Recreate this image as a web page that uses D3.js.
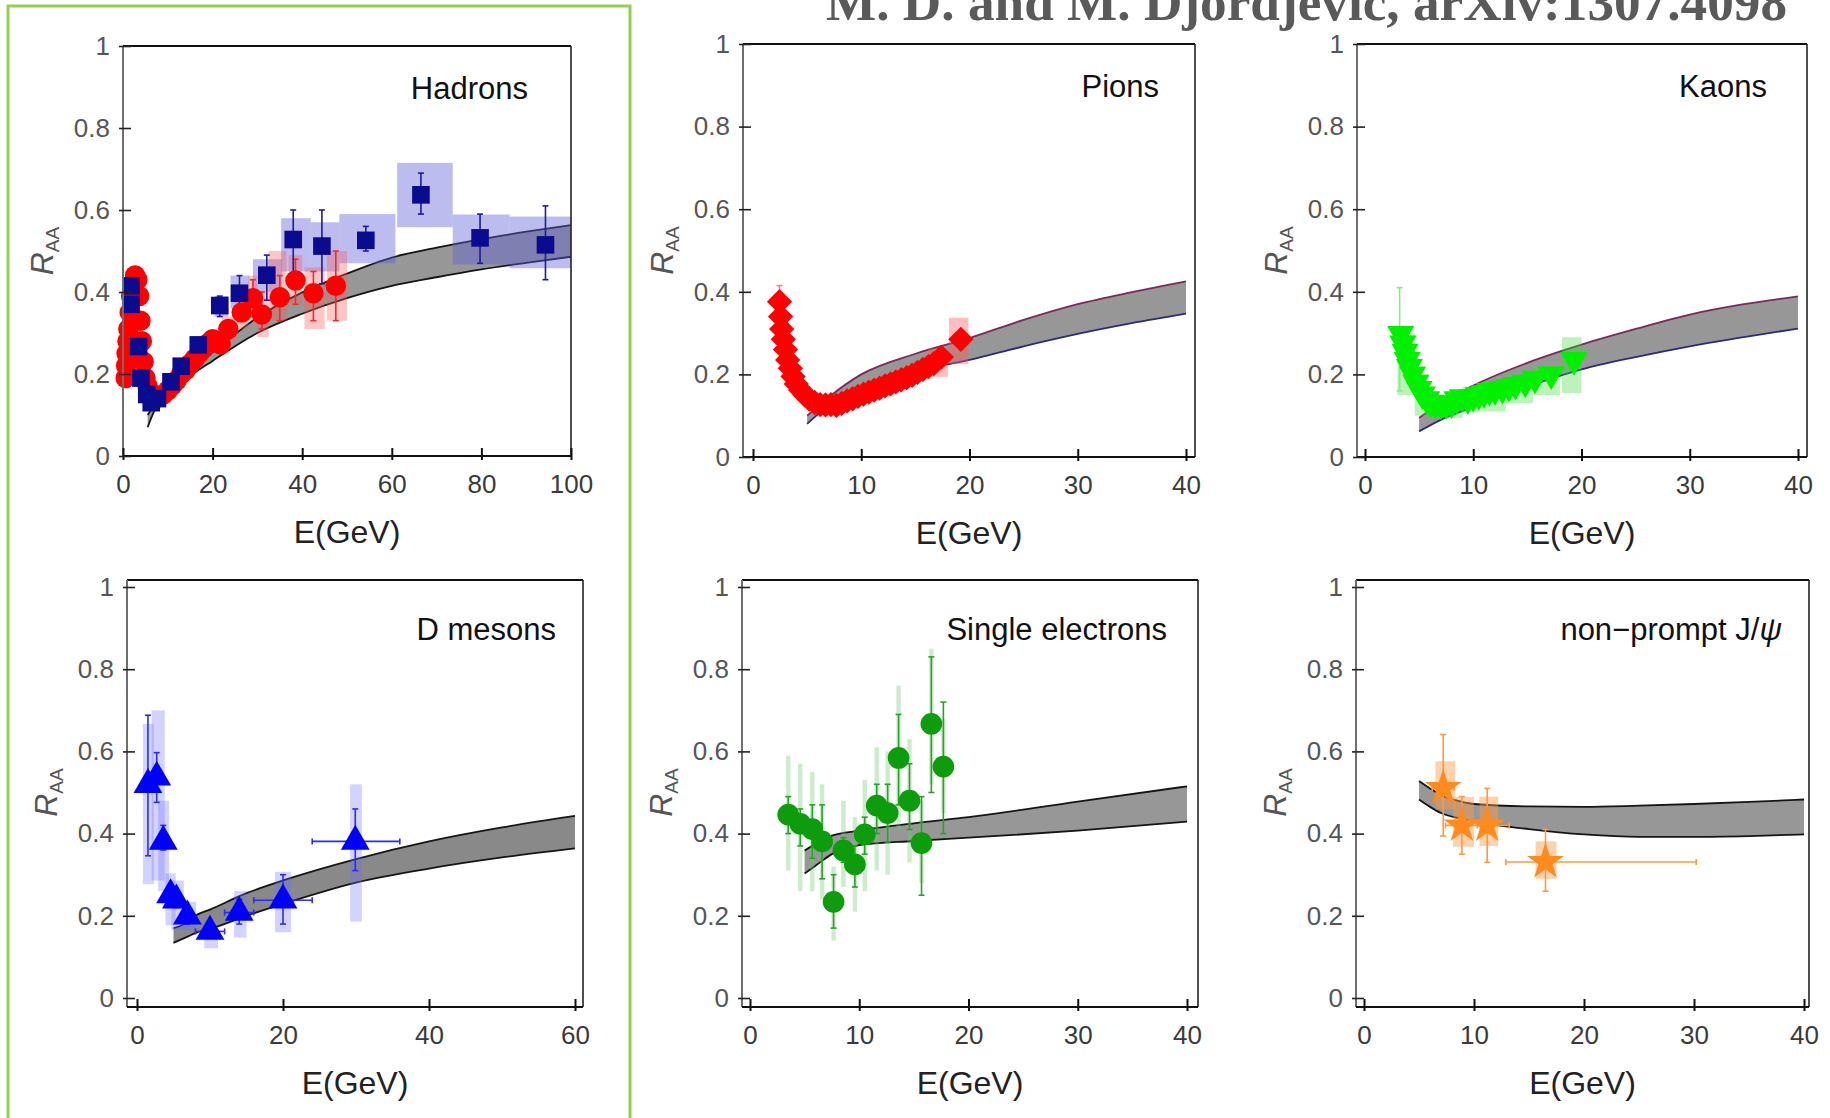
<!DOCTYPE html>
<html>
<head>
<meta charset="utf-8">
<script src="https://d3js.org/d3.v7.min.js"></script>
<style>
body { margin: 0; background: #fff; }
</style>
</head>
<body>
<svg id="chart" width="1830" height="1118"></svg>
<script>
// ---- data (E in GeV, R_AA) ----

// theory bands: [E, lower, upper]
var hadronBand = [[5.5,0.07,0.10],[7,0.11,0.123],[10,0.145,0.162],[15,0.195,0.21],[20,0.232,0.253],[30,0.30,0.338],[40,0.347,0.399],[50,0.385,0.445],[60,0.415,0.484],[70,0.436,0.508],[80,0.455,0.529],[90,0.471,0.547],[100,0.486,0.563]];
var pionBand = [[5,0.08,0.10],[7,0.125,0.145],[10,0.17,0.20],[15,0.208,0.25],[20,0.235,0.288],[25,0.268,0.332],[30,0.298,0.37],[35,0.324,0.399],[40,0.347,0.425]];
var kaonBand = [[5,0.062,0.095],[7,0.09,0.13],[10,0.121,0.173],[15,0.17,0.228],[20,0.212,0.272],[25,0.242,0.31],[30,0.268,0.345],[35,0.29,0.37],[40,0.311,0.389]];
var dBand = [[5,0.134,0.17],[7,0.15,0.185],[8,0.158,0.2],[10,0.168,0.215],[15,0.2,0.255],[20,0.229,0.286],[30,0.281,0.338],[40,0.315,0.381],[50,0.342,0.415],[60,0.364,0.443]];
var elecBand = [[5,0.303,0.359],[6,0.322,0.375],[7.5,0.35,0.395],[10,0.372,0.407],[15,0.382,0.425],[20,0.39,0.44],[30,0.407,0.478],[40,0.429,0.515]];
var jpsiBand = [[5,0.483,0.528],[6,0.465,0.51],[7,0.45,0.494],[8.5,0.438,0.48],[10,0.429,0.472],[15,0.411,0.466],[20,0.398,0.465],[25,0.392,0.468],[30,0.392,0.472],[35,0.394,0.477],[40,0.398,0.483]];

// hadrons, blue squares: [E, R]
var hadBlue = [[1.8,0.415],[1.8,0.37],[3.5,0.267],[4.0,0.19],[5.3,0.15],[6.3,0.13],[7.7,0.14],[10.7,0.181],[13,0.219],[16.8,0.271],[21.6,0.367],[26,0.397],[32.1,0.441],[38,0.528],[44.4,0.512],[54.2,0.526],[66.5,0.637],[79.7,0.532],[94.3,0.515]];
// [E, low, high]
var hadBlueErr = [[21.6,0.34,0.39],[26,0.36,0.44],[32.1,0.38,0.49],[38,0.44,0.60],[44.4,0.42,0.60],[54.2,0.50,0.56],[66.5,0.59,0.69],[79.7,0.47,0.59],[94.3,0.43,0.61]];
// [E from, E to, low, high]
var hadBlueSys = [[20.5,23.5,0.34,0.39],[24,28.2,0.36,0.44],[29,35.5,0.40,0.48],[35.3,41.9,0.45,0.58],[41.9,48.3,0.45,0.57],[48.3,60.8,0.47,0.59],[61.2,73.6,0.558,0.715],[73.6,86.3,0.467,0.589],[86.3,100,0.458,0.584]];

// hadrons, red circles
var hadRed = [[0.6,0.19],[0.7,0.22],[0.8,0.25],[1.0,0.28],[1.2,0.31],[1.5,0.35],[1.8,0.39],[2.2,0.42],[2.7,0.44],[3.2,0.43],[3.6,0.39],[3.9,0.33],[4.2,0.28],[4.6,0.23],[5.0,0.19],[5.5,0.17],[6.0,0.155],[6.6,0.145],[7.3,0.14],[8.0,0.145],[9,0.15],[10,0.16],[11,0.172],[12,0.185],[13,0.2],[14,0.21],[15,0.225],[16,0.237],[17,0.25],[18,0.262],[19,0.275],[20,0.285],[21.8,0.272],[23.5,0.31],[26.5,0.35],[29,0.385],[31,0.345],[35,0.387],[38.5,0.428],[42.5,0.397],[47.5,0.415]];
var hadRedErr = [[29,0.34,0.43],[31,0.31,0.40],[35,0.33,0.44],[38.5,0.37,0.48],[42.5,0.33,0.45],[47.5,0.33,0.50]];
var hadRedSys = [[22,25,0.28,0.34],[25,28,0.31,0.39],[28,30,0.33,0.44],[30,32.5,0.29,0.40],[32.5,36.5,0.33,0.50],[37,40,0.37,0.49],[40.5,45,0.31,0.46],[45.5,50,0.33,0.50]];

// pions, red diamonds
var pions = [[2.45,0.376],[2.55,0.34],[2.65,0.31],[2.8,0.285],[3.0,0.26],[3.2,0.235],[3.45,0.215],[3.7,0.195],[4.0,0.177],[4.4,0.162],[4.8,0.15],[5.2,0.14],[5.7,0.132],[6.2,0.127],[6.7,0.126],[7.2,0.127],[7.7,0.125],[8.2,0.13],[8.7,0.136],[9.2,0.141],[9.7,0.147],[10.2,0.152],[10.7,0.157],[11.2,0.162],[11.7,0.167],[12.2,0.172],[12.7,0.177],[13.2,0.182],[13.7,0.187],[14.2,0.192],[14.7,0.198],[15.2,0.205],[15.7,0.212],[16.2,0.219],[16.7,0.226],[17.4,0.242],[19.2,0.285]];
var pionErr = [[2.45,0.376,0.415]];
var pionSys = [[16.2,18,0.194,0.263],[18.1,19.9,0.225,0.337]];

// kaons, green down triangles
var kaons = [[3.3,0.298],[3.5,0.275],[3.7,0.255],[3.9,0.235],[4.1,0.218],[4.4,0.2],[4.7,0.18],[5.0,0.165],[5.3,0.152],[5.7,0.14],[6.1,0.132],[6.5,0.128],[7.0,0.127],[7.5,0.128],[8.0,0.13],[8.5,0.14],[9.0,0.145],[9.5,0.14],[10.0,0.145],[10.5,0.15],[11.0,0.155],[11.5,0.16],[12.0,0.162],[12.7,0.165],[13.3,0.17],[13.9,0.175],[14.8,0.18],[15.7,0.19],[17.2,0.2],[19.3,0.235]];
var kaonErr = [[3.2,0.16,0.41]];
var kaonSys = [[3.0,4.6,0.15,0.30],[4.6,5.8,0.10,0.20],[5.8,9,0.095,0.15],[9,13,0.11,0.17],[13,15.5,0.13,0.20],[15.5,18,0.15,0.22],[18.2,20,0.155,0.29]];

// D mesons, blue triangles
var dMesons = [[1.5,0.519],[2.7,0.537],[3.6,0.381],[4.6,0.251],[5.4,0.238],[6.9,0.199],[10,0.162],[14,0.208],[20,0.238],[29.9,0.381]];
var dErr = [[1.5,0.346,0.688],[2.7,0.476,0.597],[3.6,0.36,0.42],[4.6,0.23,0.27],[5.4,0.22,0.26],[6.9,0.18,0.22],[10,0.15,0.175],[14,0.18,0.24],[20,0.18,0.30],[29.9,0.31,0.46]];
// [R, E from, E to]
var dErrX = [[0.162,8,12],[0.208,12,16],[0.238,16,24],[0.381,24,36]];
var dSys = [[0.8,2.3,0.277,0.667],[2.0,3.8,0.286,0.70],[2.9,4.4,0.26,0.48],[3.9,5.3,0.177,0.303],[4.7,6.4,0.165,0.286],[6.1,8.1,0.165,0.234],[9.2,11.1,0.121,0.173],[13.3,15,0.147,0.26],[18.9,21.1,0.16,0.307],[29.2,30.8,0.186,0.52]];

// single electrons, green circles
var elec = [[3.5,0.446],[4.6,0.424],[5.7,0.411],[6.6,0.381],[7.65,0.234],[8.55,0.359],[9.6,0.325],[10.5,0.398],[11.6,0.468],[12.6,0.45],[13.6,0.584],[14.6,0.48],[15.7,0.377],[16.6,0.667],[17.7,0.563]];
var elecErr = [[3.5,0.40,0.49],[4.6,0.37,0.46],[5.7,0.34,0.47],[6.6,0.29,0.47],[7.65,0.17,0.30],[8.55,0.33,0.39],[9.6,0.27,0.37],[10.5,0.35,0.44],[11.6,0.40,0.52],[12.6,0.38,0.52],[13.6,0.47,0.69],[14.6,0.41,0.57],[15.7,0.25,0.49],[16.6,0.50,0.83],[17.7,0.40,0.72]];
var elecSys = [[3.3,3.7,0.31,0.59],[4.4,4.8,0.26,0.57],[5.5,5.9,0.26,0.55],[6.4,6.8,0.24,0.52],[7.45,7.85,0.14,0.32],[8.35,8.75,0.27,0.48],[9.4,9.8,0.21,0.44],[10.3,10.7,0.26,0.53],[11.4,11.8,0.31,0.61],[12.4,12.8,0.30,0.60],[13.4,13.8,0.41,0.76],[14.4,14.8,0.33,0.63],[15.5,15.9,0.28,0.48],[16.4,16.8,0.52,0.85],[17.5,17.9,0.45,0.68]];

// non-prompt J/psi, orange stars
var jpsi = [[7.2,0.511],[8.9,0.42],[11.2,0.42],[16.5,0.331]];
var jpsiErr = [[7.2,0.394,0.641],[8.9,0.35,0.49],[11.2,0.33,0.51],[16.5,0.26,0.41]];
var jpsiErrX = [[0.511,6.2,8.2],[0.42,7.4,10.3],[0.42,10.7,13.2],[0.331,12.9,30.2]];
var jpsiSys = [[6.5,8.3,0.459,0.576],[8.1,10,0.368,0.489],[10.5,12.2,0.37,0.49],[15.6,17.5,0.29,0.381]];

var yTicks = [0, 0.2, 0.4, 0.6, 0.8, 1];

// ---- layout ----
var panels = [
	{ name: "Hadrons", frame: [123, 46, 571, 456], xr: [123, 571], yr: [456, 46], xmax: 100, xticks: [0,20,40,60,80,100], titleX: 528,
	  band: hadronBand, sys: [[hadBlueSys, "rgba(95,95,215,0.42)"], [hadRedSys, "rgba(255,90,90,0.35)"]],
	  err: [[hadRedErr, "#e53030"], [hadBlueErr, "#1c1ca0"]],
	  marks: [[hadRed, "circle", 330, "#ff0000"], [hadBlue, "square", 310, "#0b0b8f"]] },
	{ name: "Pions", frame: [743, 44, 1195, 457], xr: [753, 1186], yr: [457, 44], xmax: 40, xticks: [0,10,20,30,40], titleX: 1159,
	  band: pionBand, lineTop: "#7a2a5a", lineBot: "#2a2a80",
	  sys: [[pionSys, "rgba(255,90,90,0.4)"]], err: [[pionErr, "#ff8080"]],
	  marks: [[pions, "diamond", 320, "#ff0000"]] },
	{ name: "Kaons", frame: [1357, 44, 1807, 457], xr: [1365, 1798], yr: [457, 44], xmax: 40, xticks: [0,10,20,30,40], titleX: 1767,
	  band: kaonBand, lineTop: "#7a2a5a", lineBot: "#2a2a80",
	  sys: [[kaonSys, "rgba(60,220,60,0.35)"]], err: [[kaonErr, "#80f080"]],
	  marks: [[kaons, "down", 320, "#00f000"]] },
	{ name: "D mesons", frame: [127, 580, 583, 1007], xr: [137, 575], yr: [998, 587], xmax: 60, xticks: [0,20,40,60], titleX: 556,
	  band: dBand, bandFill: "#898989",
	  sys: [[dSys, "rgba(110,110,255,0.3)"]], err: [[dErr, "#2a2aff"]], errX: [[dErrX, "#2a2aff"]],
	  marks: [[dMesons, "up", 360, "#0000ff"]] },
	{ name: "Single electrons", frame: [742, 580, 1198, 1007], xr: [750, 1187], yr: [998, 587], xmax: 40, xticks: [0,10,20,30,40], titleX: 1167,
	  band: elecBand,
	  sys: [[elecSys, "rgba(110,200,110,0.35)"]], err: [[elecErr, "#2ca02c"]],
	  marks: [[elec, "circle", 370, "#0c9c0c"]] },
	{ name: "non\u2212prompt J/", psi: true, frame: [1356, 580, 1809, 1007], xr: [1364, 1804], yr: [998, 587], xmax: 40, xticks: [0,10,20,30,40], titleX: 1782,
	  band: jpsiBand,
	  sys: [[jpsiSys, "rgba(255,155,70,0.45)"]], err: [[jpsiErr, "#ff9a3c"]], errX: [[jpsiErrX, "#ff9a3c"]],
	  marks: [[jpsi, "star", 420, "#ff8a1e"]] }
];

var svg = d3.select("#chart");
var sans = "Liberation Sans, Arial, sans-serif";

// green highlight around left column
svg.append("rect")
	.attr("x", 8).attr("y", 6).attr("width", 622).attr("height", 1140)
	.attr("fill", "none").attr("stroke", "#92d050").attr("stroke-width", 3);

svg.append("text")
	.attr("x", 826).attr("y", 20)
	.attr("font-family", "Liberation Serif, Times New Roman, serif")
	.attr("font-weight", "bold").attr("font-size", 53)
	.attr("fill", "#5a5a5a")
	.attr("textLength", 961).attr("lengthAdjust", "spacingAndGlyphs")
	.text("M. D. and M. Djordjevic, arXiv:1307.4098");

var symbols = {
	circle: [d3.symbolCircle, 0],
	square: [d3.symbolSquare, 0],
	diamond: [d3.symbolSquare, 45],
	up: [d3.symbolTriangle, 0],
	down: [d3.symbolTriangle, 180],
	star: [d3.symbolStar, 0]
};

panels.forEach(drawPanel);

function drawPanel(p) {
	var x = d3.scaleLinear().domain([0, p.xmax]).range(p.xr);
	var y = d3.scaleLinear().domain([0, 1]).range(p.yr);
	var g = svg.append("g");
	var f = p.frame;

	// theory band
	var area = d3.area().curve(d3.curveMonotoneX)
		.x(function(d) { return x(d[0]); })
		.y0(function(d) { return y(d[1]); })
		.y1(function(d) { return y(d[2]); });
	g.append("path").datum(p.band).attr("d", area).attr("fill", p.bandFill || "#979797");
	var lo = d3.line().curve(d3.curveMonotoneX).x(function(d) { return x(d[0]); }).y(function(d) { return y(d[1]); });
	var hi = d3.line().curve(d3.curveMonotoneX).x(function(d) { return x(d[0]); }).y(function(d) { return y(d[2]); });
	g.append("path").datum(p.band).attr("d", hi).attr("fill", "none").attr("stroke", p.lineTop || "#151515").attr("stroke-width", 1.8);
	g.append("path").datum(p.band).attr("d", lo).attr("fill", "none").attr("stroke", p.lineBot || "#151515").attr("stroke-width", 1.8);

	// systematic boxes
	(p.sys || []).forEach(function(s) {
		g.selectAll(null).data(s[0]).enter().append("rect")
			.attr("x", function(d) { return x(d[0]); })
			.attr("width", function(d) { return x(d[1]) - x(d[0]); })
			.attr("y", function(d) { return y(d[3]); })
			.attr("height", function(d) { return y(d[2]) - y(d[3]); })
			.attr("fill", s[1]);
	});

	// vertical error bars with caps
	(p.err || []).forEach(function(e) {
		var eg = g.selectAll(null).data(e[0]).enter().append("g").attr("stroke", e[1]).attr("stroke-width", 1.6);
		eg.append("line").attr("x1", function(d) { return x(d[0]); }).attr("x2", function(d) { return x(d[0]); })
			.attr("y1", function(d) { return y(d[1]); }).attr("y2", function(d) { return y(d[2]); });
		[1, 2].forEach(function(k) {
			eg.append("line").attr("x1", function(d) { return x(d[0]) - 3; }).attr("x2", function(d) { return x(d[0]) + 3; })
				.attr("y1", function(d) { return y(d[k]); }).attr("y2", function(d) { return y(d[k]); });
		});
	});

	// horizontal error bars
	(p.errX || []).forEach(function(e) {
		var eg = g.selectAll(null).data(e[0]).enter().append("g").attr("stroke", e[1]).attr("stroke-width", 1.6);
		eg.append("line").attr("x1", function(d) { return x(d[1]); }).attr("x2", function(d) { return x(d[2]); })
			.attr("y1", function(d) { return y(d[0]); }).attr("y2", function(d) { return y(d[0]); });
		[1, 2].forEach(function(k) {
			eg.append("line").attr("x1", function(d) { return x(d[k]); }).attr("x2", function(d) { return x(d[k]); })
				.attr("y1", function(d) { return y(d[0]) - 3; }).attr("y2", function(d) { return y(d[0]) + 3; });
		});
	});

	// markers
	p.marks.forEach(function(m) {
		var sym = symbols[m[1]];
		g.selectAll(null).data(m[0]).enter().append("path")
			.attr("d", d3.symbol().type(sym[0]).size(m[2]))
			.attr("transform", function(d) { return "translate(" + x(d[0]) + "," + y(d[1]) + ") rotate(" + sym[1] + ")"; })
			.attr("fill", m[3]);
	});

	// frame
	g.append("line").attr("x1", f[0]).attr("x2", f[2]).attr("y1", f[1]).attr("y2", f[1]).attr("stroke", "#111").attr("stroke-width", 2);
	g.append("line").attr("x1", f[2]).attr("x2", f[2]).attr("y1", f[1]).attr("y2", f[3]).attr("stroke", "#222").attr("stroke-width", 1.6);
	g.append("line").attr("x1", f[0]).attr("x2", f[0]).attr("y1", f[1]).attr("y2", f[3]).attr("stroke", "#6e6e6e").attr("stroke-width", 2);

	var xa = g.append("g").attr("transform", "translate(0," + f[3] + ")")
		.call(d3.axisBottom(x).tickValues(p.xticks).tickSize(4));
	xa.select(".domain").attr("d", "M" + f[0] + ",0H" + f[2]).attr("stroke", "#111").attr("stroke-width", 2);
	xa.selectAll(".tick line").attr("y1", -8).attr("y2", 4).attr("stroke", "#111").attr("stroke-width", 2);
	xa.attr("font-family", sans).attr("font-size", 26);
	xa.selectAll(".tick text").attr("y", 37).attr("dy", 0).attr("fill", "#3a3a3a");

	var ya = g.append("g").attr("transform", "translate(" + f[0] + ",0)")
		.call(d3.axisLeft(y).tickValues(yTicks).tickFormat(function(d) { return String(+d.toFixed(1)); }));
	ya.select(".domain").remove();
	ya.selectAll(".tick line").attr("x1", -4).attr("x2", 8).attr("stroke", "#222").attr("stroke-width", 1.6);
	ya.attr("font-family", sans).attr("font-size", 26);
	ya.selectAll(".tick text").attr("x", -13).attr("fill", "#565656");

	// axis titles
	g.append("text").attr("x", (f[0] + f[2]) / 2).attr("y", f[3] + 87)
		.attr("text-anchor", "middle").attr("font-family", sans).attr("font-size", 32).attr("fill", "#222")
		.text("E(GeV)");
	var r = g.append("text")
		.attr("transform", "translate(" + (f[0] - 70) + "," + ((p.yr[0] + p.yr[1]) / 2) + ") rotate(-90)")
		.attr("text-anchor", "middle").attr("font-family", sans).attr("fill", "#555");
	r.append("tspan").attr("font-size", 32).attr("font-style", "italic").text("R");
	r.append("tspan").attr("font-size", 19).attr("dy", 6).text("AA");

	// panel name
	var t = g.append("text").attr("x", p.titleX).attr("y", y(1) + 53)
		.attr("text-anchor", "end").attr("font-family", sans).attr("font-size", 31).attr("fill", "#111")
		.text(p.name);
	if (p.psi) t.append("tspan").attr("font-style", "italic").text("\u03c8");
}
</script>
</body>
</html>
